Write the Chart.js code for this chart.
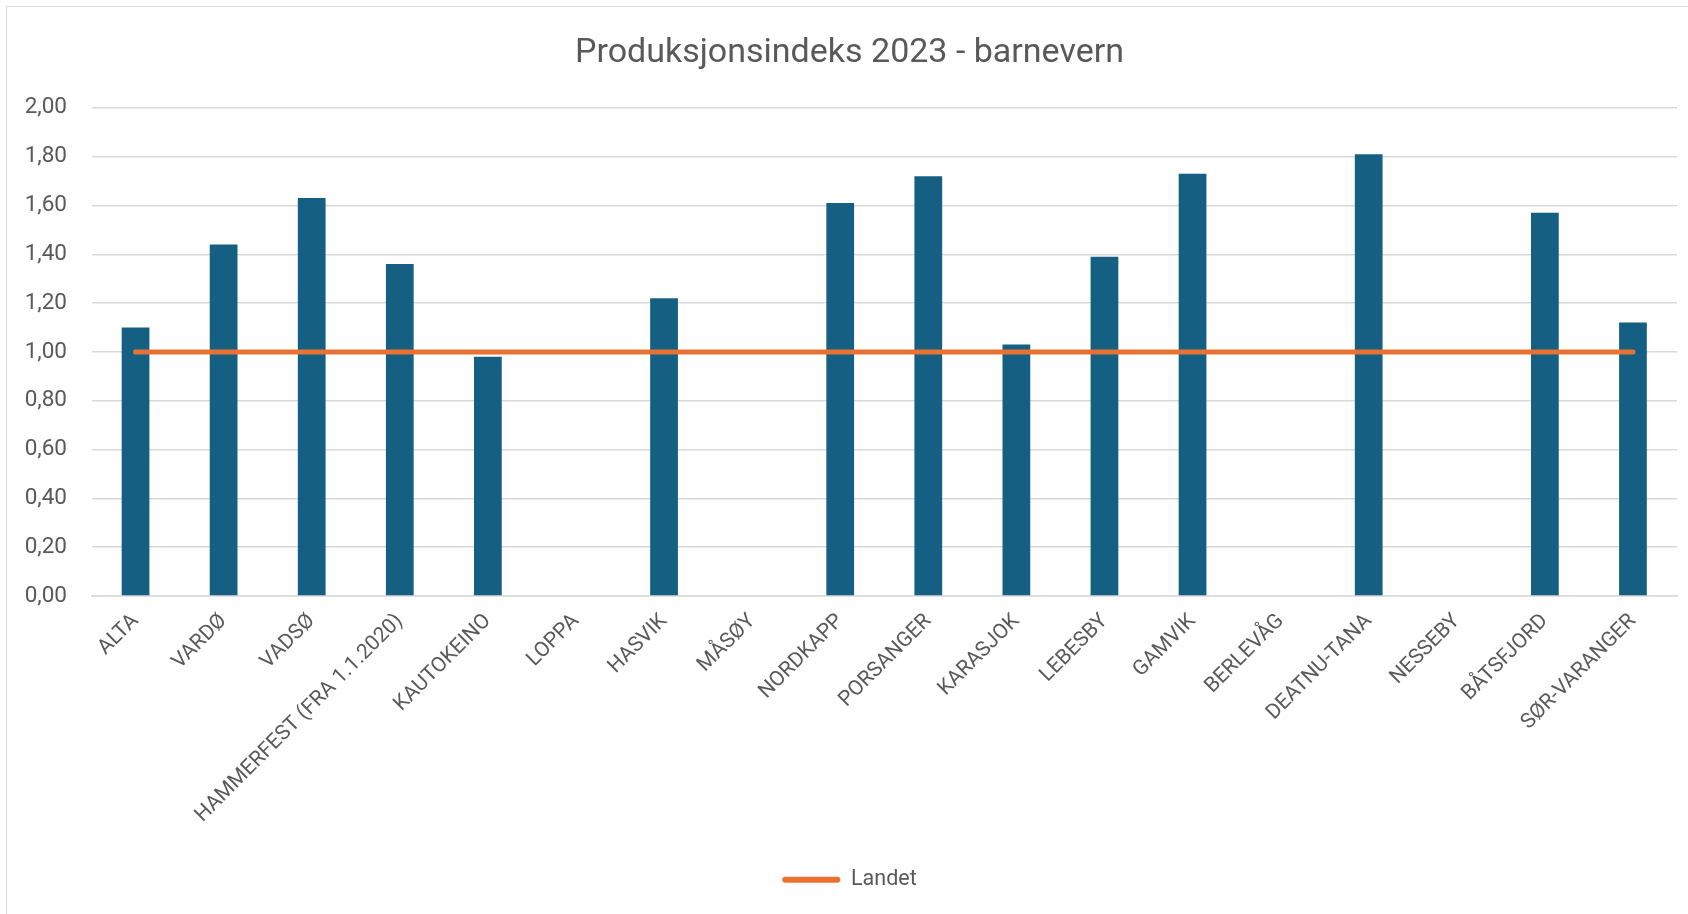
<!DOCTYPE html>
<html>
<head>
<meta charset="utf-8">
<script src="https://cdn.jsdelivr.net/npm/chart.js@4"></script>
<style>
  html, body { margin: 0; padding: 0; background: #fff; overflow: hidden; }
  #wrap { position: absolute; left: 0; top: 0; width: 1714px; height: 914px; }
  #frame { position: absolute; left: 6px; top: 6px; width: 1720px; height: 930px; border: 1px solid #d9d9d9; box-sizing: border-box; pointer-events: none; }
</style>
</head>
<body>
<div id="wrap"><canvas id="chart" width="1714" height="914"></canvas></div>
<div id="frame"></div>
<script>
// Kommuner (x-axis)
const kommuner = ['ALTA', 'VARDØ', 'VADSØ', 'HAMMERFEST (FRA 1.1.2020)', 'KAUTOKEINO', 'LOPPA', 'HASVIK', 'MÅSØY',
  'NORDKAPP', 'PORSANGER', 'KARASJOK', 'LEBESBY', 'GAMVIK', 'BERLEVÅG', 'DEATNU-TANA', 'NESSEBY', 'BÅTSFJORD', 'SØR-VARANGER'];

// Produksjonsindeks per kommune (null = no value)
const indeks = [1.10, 1.44, 1.63, 1.36, 0.98, null, 1.22, null, 1.61, 1.72, 1.03, 1.39, 1.73, null, 1.81, null, 1.57, 1.12];

// National level
const landet = [1.00, 1.00, 1.00, 1.00, 1.00, 1.00, 1.00, 1.00, 1.00, 1.00, 1.00, 1.00, 1.00, 1.00, 1.00, 1.00, 1.00, 1.00];

const yTicks = [0, 0.2, 0.4, 0.6, 0.8, 1.0, 1.2, 1.4, 1.6, 1.8, 2.0];

const FONT = 'Roboto, "Noto Sans", sans-serif';
const TEXT = '#595959';
const BLUE = '#156082';
const ORANGE = '#E97132';

new Chart(document.getElementById('chart'), {
    type: 'bar',
    data: {
        labels: kommuner,
        datasets: [{
            type: 'bar',
            label: 'Indeks',
            data: indeks,
            backgroundColor: BLUE,
            categoryPercentage: 1,
            barPercentage: 0.315,
            order: 1
        }, {
            type: 'line',
            label: 'Landet',
            data: landet,
            borderColor: ORANGE,
            backgroundColor: ORANGE,
            borderWidth: 5,
            borderCapStyle: 'round',
            pointRadius: 0,
            fill: false,
            order: 0
        }]
    },
    options: {
        responsive: false,
        animation: false,
        layout: {
            // a bit of left padding pushes title + legend towards the right like the original
            padding: { left: 22, right: 37, top: 0, bottom: 13.5 }
        },
        plugins: {
            title: {
                display: true,
                text: 'Produksjonsindeks 2023 - barnevern',
                color: TEXT,
                font: { family: FONT, size: 34, weight: 'normal' },
                padding: { top: 33, bottom: 34 }
            },
            legend: {
                position: 'bottom',
                labels: {
                    color: TEXT,
                    font: { family: FONT, size: 21.5 },
                    boxWidth: 58,
                    boxHeight: 6,
                    useBorderRadius: true,
                    borderRadius: 3,
                    padding: 10,
                    generateLabels: () => [{
                        text: 'Landet',
                        fillStyle: ORANGE,
                        strokeStyle: ORANGE,
                        lineWidth: 0,
                        borderRadius: 3,
                        datasetIndex: 1,
                        fontColor: TEXT
                    }]
                }
            },
            tooltip: { enabled: false }
        },
        scales: {
            x: {
                grid: { display: false, drawTicks: false },
                border: { display: true, color: '#d9d9d9', width: 1.5 },
                ticks: {
                    color: TEXT,
                    font: { family: FONT, size: 21 },
                    minRotation: 45,
                    maxRotation: 45,
                    autoSkip: false,
                    padding: 13
                },
                afterFit: scale => { scale.height = 263; }
            },
            y: {
                min: 0,
                max: 2,
                afterBuildTicks: scale => { scale.ticks = yTicks.map(v => ({ value: v })); },
                grid: { color: '#d9d9d9', lineWidth: 1.5, drawTicks: false },
                border: { display: false },
                ticks: {
                    color: TEXT,
                    font: { family: FONT, size: 22.5 },
                    padding: 24.5,
                    callback: v => v.toFixed(2).replace('.', ',')
                },
                afterFit: scale => { scale.width = 69.5; }
            }
        }
    }
});
</script>
</body>
</html>
